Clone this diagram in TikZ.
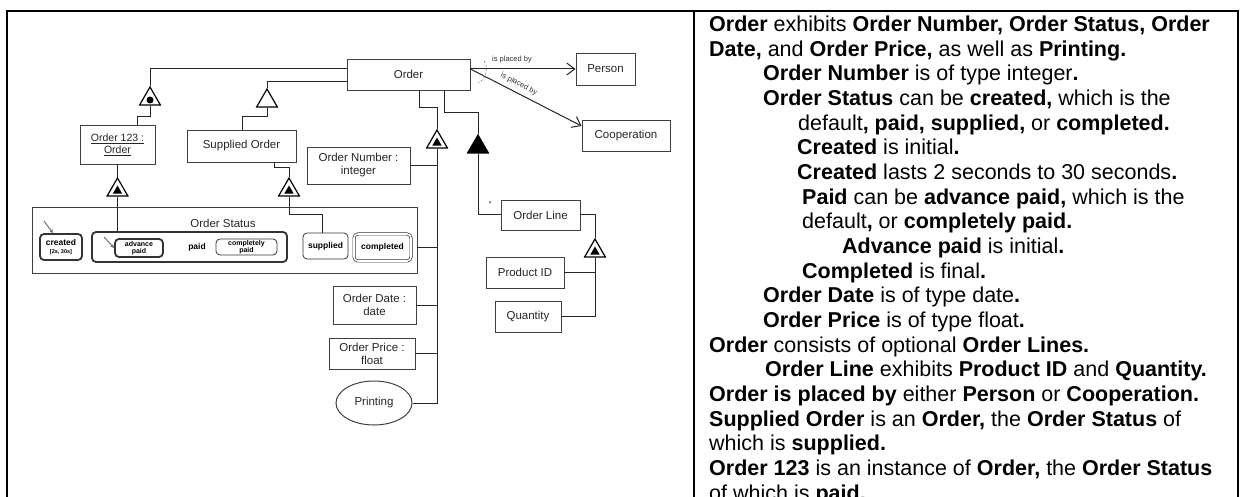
\documentclass[tikz,border=0pt]{standalone}
\usepackage{fontspec}
\setmainfont{Liberation Sans}
\usetikzlibrary{shapes.geometric,arrows.meta}
\newcommand{\diagfont}{\fontsize{11.5}{13}\selectfont}
\newcommand{\statefont}{\fontsize{8.5}{9}\selectfont\bfseries}
\begin{document}
\begin{tikzpicture}[x=1pt,y=-1pt,
  box/.style 2 args={draw=black!75, line width=0.9pt, rectangle, minimum width=#1, minimum height=#2, inner sep=0pt, align=center, font=\diagfont, text=black!85},
  state/.style 2 args={draw=black!80, rounded corners=4pt, line width=0.8pt, minimum width=#1, minimum height=#2, inner sep=0pt, align=center, font=\statefont},
  thickstate/.style={line width=1.8pt},
  tri/.style={regular polygon, regular polygon sides=3, minimum size=24, inner sep=0pt, draw=black, line width=1.2pt, fill=white},
  innertri/.style={regular polygon, regular polygon sides=3, minimum size=11, inner sep=0pt, fill=black},
  link/.style={draw=black!85, line width=1pt},
  initarrow/.style={draw=black!55, line width=1pt, -{Stealth[length=4pt,width=4pt]}},
  placed/.style={link, -{Straight Barb[length=8pt,width=12pt]}},
  smalllabel/.style={font=\fontsize{7.5}{8}\selectfont, inner sep=0pt, text=black!80},
  ptext/.style={anchor=base west, inner sep=0pt, font=\fontsize{21.5}{24}\selectfont},
  frame/.style={line width=2pt, black}
]
\useasboundingbox (0,0) rectangle (1240,497);

% outer frame and divider between diagram and text
\draw[frame] (7,500) -- (7,11) -- (1238,11) -- (1238,500);
\draw[frame] (694,11) -- (694,500);

% objects
\node[box={123}{31}] (order) at (408.5,74.5) {Order};
\node[box={59}{32}] (person) at (605.5,69) {Person};
\node[box={88}{31}] (coop) at (626,135.5) {Cooperation};
\node[box={75}{39}, font=\fontsize{10.5}{12}\selectfont] (o123) at (117.5,144.5) {\underline{Order 123 :}\\\underline{Order}};
\node[box={109}{32}] (sorder) at (241.5,146) {Supplied Order};
\node[box={103}{37}] (onum) at (358.5,165.5) {Order Number :\\integer};
\node[box={385}{66}] (status) at (224.5,240) {};
\node[font=\diagfont, text=black!85] (statuslabel) at (223,223) {Order Status};
\node[box={83}{38}] (odate) at (374.5,305) {Order Date :\\date};
\node[box={86}{31}] (oprice) at (372,353.5) {Order Price :\\float};
\node[ellipse, draw=black!75, line width=1pt, minimum width=76, minimum height=44, inner sep=0pt, font=\diagfont, text=black!85] (printing) at (374,403) {Printing};
\node[box={79}{30}] (oline) at (540.5,215) {Order Line};
\node[box={78}{31}] (pid) at (525,272.5) {Product ID};
\node[box={66}{31}] (qty) at (528,316.5) {Quantity};

% states of Order Status
\node[state={42}{26}, thickstate] (created) at (61,247) {created\\[-1pt]{\fontsize{5.5}{6}\selectfont [2s, 30s]}};
\node[state={195}{30}, thickstate] (paid) at (189.5,247) {};
\node[font=\statefont] (paidlabel) at (197,247) {paid};
\node[state={48}{18}, thickstate, font=\fontsize{7}{7.5}\selectfont\bfseries] (advance) at (139,248) {advance\\paid};
\node[state={61}{16}, font=\fontsize{7}{7.5}\selectfont\bfseries] (cpaid) at (246.5,247) {completely\\paid};
\node[state={45}{26}] (supplied) at (325.5,246) {supplied};
\node[state={57}{27}, double=white, double distance=1.6pt, line width=0.7pt] (completed) at (382.5,247.5) {completed};

% structural link symbols
\node[tri] (tinst) at (150,99) {};
\node[circle, fill=black, minimum size=7, inner sep=0pt] (tinstdot) at (150,100) {};
\node[tri] (tspec) at (267,101) {};
\node[tri] (tex1) at (437,142) {};
\node[innertri] (tex1in) at (437,143) {};
\node[tri, fill=black] (tagg) at (478,147) {};
\node[tri] (tex2) at (595,251) {};
\node[innertri] (tex2in) at (595,252) {};
\node[tri] (tex3) at (117.5,190) {};
\node[innertri] (tex3in) at (117.5,191) {};
\node[tri] (tex4) at (289,190) {};
\node[innertri] (tex4in) at (289,191) {};

% procedural links to Person / Cooperation
\coordinate (src) at (order.east |- 0,69);
\draw[placed] (src) -- (person.west);
\draw[placed] (src) -- (coop.west |- 0,126);
\node[smalllabel] (lbl1) at (512,60) {is placed by};
\node[smalllabel, rotate=-27] (lbl2) at (519,84) {is placed by};
\draw[draw=black!60, dash pattern=on 2pt off 2pt, line width=0.6pt] (src) ++(-30:16) arc[start angle=-30, end angle=60, radius=16];

% generalisation and instantiation
\draw[link] (order.west |- 0,69) -| (tinst.corner 1);
\draw[link] (order.west |- 0,82) -| (tspec.corner 1);
\draw[link] (tinst.side 2) |- (137,117) -- (o123.north -| 137,0);
\draw[link] (tspec.side 2) |- (242,117) -- (sorder.north -| 242,0);
\draw[link] (o123.south) -- (tex3.corner 1);
\draw[link] (tex3.side 2) -- (tex3.side 2 |- paid.north);
\draw[link] (sorder.south -| 274,0) |- (289,168) -- (tex4.corner 1);
\draw[link] (tex4.side 2) |- (322,215) -- (supplied.north -| 322,0);

% exhibition of Order
\draw[link] (order.south -| 419,0) |- (437,108) -- (tex1.corner 1);
\draw[link] (tex1.side 2) |- (printing.east);
\draw[link] (onum.east) -- (onum.east -| tex1.side 2);
\draw[link] (status.east |- 0,248) -- (tex1.side 2 |- 0,248);
\draw[link] (odate.east) -- (odate.east -| tex1.side 2);
\draw[link] (oprice.east) -- (oprice.east -| tex1.side 2);

% aggregation of Order Line and its exhibition
\draw[link] (order.south -| 444,0) |- (478,113) -- (tagg.corner 1);
\draw[link] (tagg.side 2) |- (oline.west);
\node[smalllabel] (mult) at (490,204) {*};
\draw[link] (oline.east) -| (tex2.corner 1);
\draw[link] (tex2.side 2) |- (qty.east);
\draw[link] (pid.east) -- (pid.east -| tex2.side 2);

% initial state markers
\coordinate (cinit) at (44,221);
\draw[initarrow] (cinit) -- (created.120);
\coordinate (ainit) at (104,237);
\draw[initarrow] (ainit) -- (advance.west);

% textual description
\node[ptext] (t1) at (709,31.5) {\textbf{Order} exhibits \textbf{Order Number, Order Status, Order}};
\node[ptext] (t2) at (709,56.2) {\textbf{Date,} and \textbf{Order Price,} as well as \textbf{Printing.}};
\node[ptext] (t3) at (763,80.8) {\textbf{Order Number} is of type integer\textbf{.}};
\node[ptext] (t4) at (763,105.5) {\textbf{Order Status} can be \textbf{created,} which is the};
\node[ptext] (t5) at (798,130.1) {default\textbf{, paid, supplied,} or \textbf{completed.}};
\node[ptext] (t6) at (797,154.8) {\textbf{Created} is initial\textbf{.}};
\node[ptext] (t7) at (797,179.5) {\textbf{Created} lasts 2 seconds to 30 seconds\textbf{.}};
\node[ptext] (t8) at (802,204.1) {\textbf{Paid} can be \textbf{advance paid,} which is the};
\node[ptext] (t9) at (802,228.8) {default\textbf{,} or \textbf{completely paid.}};
\node[ptext] (t10) at (842,253.4) {\textbf{Advance paid} is initial\textbf{.}};
\node[ptext] (t11) at (802,278.1) {\textbf{Completed} is final\textbf{.}};
\node[ptext] (t12) at (763,302.8) {\textbf{Order Date} is of type date\textbf{.}};
\node[ptext] (t13) at (763,327.4) {\textbf{Order Price} is of type float\textbf{.}};
\node[ptext] (t14) at (709,352.1) {\textbf{Order} consists of optional \textbf{Order Lines.}};
\node[ptext] (t15) at (765,376.7) {\textbf{Order Line} exhibits \textbf{Product ID} and \textbf{Quantity.}};
\node[ptext] (t16) at (709,401.4) {\textbf{Order is placed by} either \textbf{Person} or \textbf{Cooperation.}};
\node[ptext] (t17) at (709,426.1) {\textbf{Supplied Order} is an \textbf{Order,} the \textbf{Order Status} of};
\node[ptext] (t18) at (709,450.7) {which is \textbf{supplied.}};
\node[ptext] (t19) at (709,475.4) {\textbf{Order 123} is an instance of \textbf{Order,} the \textbf{Order Status}};
\node[ptext] (t20) at (709,500.0) {of which is \textbf{paid.}};
\end{tikzpicture}
\end{document}
